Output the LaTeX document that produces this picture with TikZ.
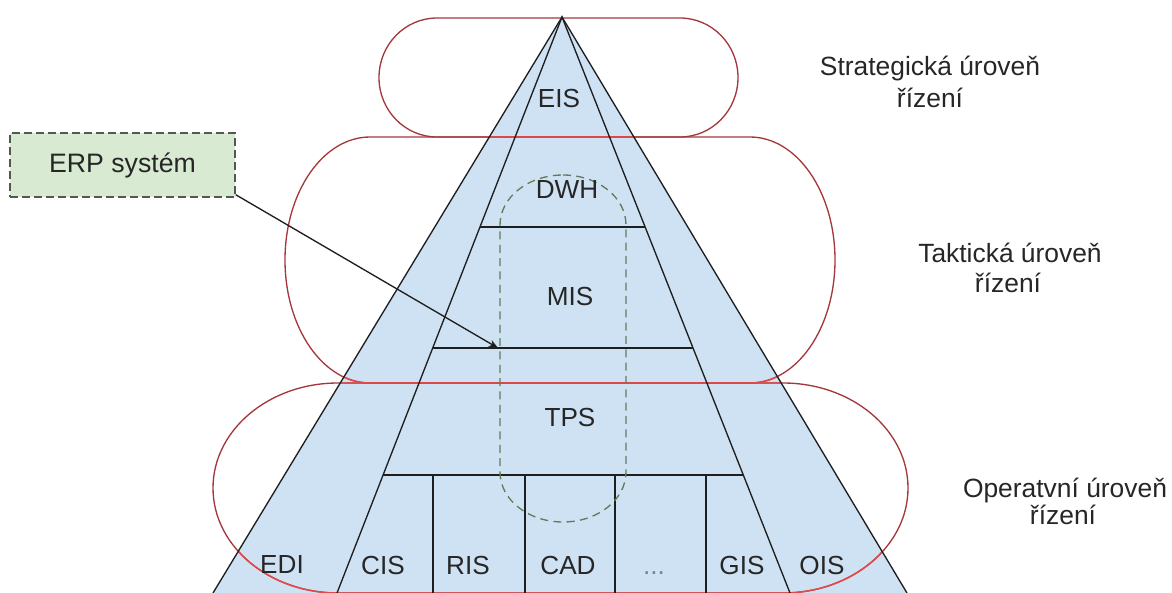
\documentclass[tikz,border=0pt]{standalone}
\usepackage{fontspec}
\setmainfont{Liberation Sans}
\usetikzlibrary{calc,arrows.meta}

\definecolor{pyrblue}{HTML}{CFE2F3}
\definecolor{lvlred}{RGB}{165,55,60}
\definecolor{lvlredlight}{RGB}{228,72,72}
\definecolor{erpgreen}{HTML}{D9EAD3}
\definecolor{erpdash}{RGB}{95,125,90}
\definecolor{erpframe}{RGB}{80,90,80}
\definecolor{inkline}{HTML}{1E1E1E}
\definecolor{inktext}{HTML}{262626}

% stadium-like outline with elliptical ends: left, right, top, bottom, rx, ry
\newcommand\capsulepath[6]{%
  (#1+#5,#3) -- (#2-#5,#3)
  .. controls (#2-#5+0.5523*#5,#3) and (#2,#3+#6-0.5523*#6) .. (#2,#3+#6)
  -- (#2,#4-#6)
  .. controls (#2,#4-#6+0.5523*#6) and (#2-#5+0.5523*#5,#4) .. (#2-#5,#4)
  -- (#1+#5,#4)
  .. controls (#1+#5-0.5523*#5,#4) and (#1,#4-#6+0.5523*#6) .. (#1,#4-#6)
  -- (#1,#3+#6)
  .. controls (#1,#3+#6-0.5523*#6) and (#1+#5-0.5523*#5,#3) .. (#1+#5,#3) -- cycle}

\tikzset{
  lvl/.style={draw=lvlred, line width=1pt},
  lvlin/.style={draw=lvlredlight, line width=1.1pt},
  blk/.style={draw=inkline, line width=1pt},
  erpzone/.style={draw=erpdash, line width=1pt, dash pattern=on 6pt off 4pt},
  tag/.style={text=inktext, font=\fontsize{19.6}{23}\selectfont, inner sep=0pt},
  side/.style={text=inktext, font=\fontsize{19.8}{23}\selectfont, inner sep=0pt, anchor=base},
  erpbox/.style={draw=erpframe, line width=1pt, dash pattern=on 6pt off 3pt,
    fill=erpgreen, minimum width=168.75pt, minimum height=48pt, inner sep=0pt,
    font=\fontsize{20}{24}\selectfont, text=inktext},
  pointer/.style={draw=inkline, line width=1pt, -{Stealth[length=7pt,width=5.5pt]}}
}

\begin{document}
\begin{tikzpicture}[x=0.75pt,y=-0.75pt]
\useasboundingbox (0,0) rectangle (1172,593);
\begin{scope}
\clip (0,0) rectangle (1172,593);

% pyramid corners and inner dividing lines
\coordinate (A)  at (562,17);
\coordinate (BL) at (213,593);
\coordinate (BR) at (907,593);
\coordinate (IL) at (337,593);
\coordinate (IR) at (790,593);

\fill[pyrblue] (A) -- (BL) -- (BR) -- cycle;

% management levels
\draw[lvl] \capsulepath{379}{738}{18}{137}{58}{59.5};
\draw[lvl] \capsulepath{285}{835}{137}{383}{85}{123};
\draw[lvl] \capsulepath{213}{908}{383}{593}{125}{105};
\begin{scope}
  \clip (A) -- (BL) -- (BR) -- cycle;
  \draw[lvlin] \capsulepath{379}{738}{18}{137}{58}{59.5};
  \draw[lvlin] \capsulepath{285}{835}{137}{383}{85}{123};
  \draw[lvlin] \capsulepath{213}{908}{383}{593}{125}{105};
\end{scope}

% pyramid outline and sections
\draw[blk] (BL) -- (A) -- (BR);
\draw[blk] (IL) -- (A) -- (IR);
\draw[blk] ($(A)!0.3646!(IL)$) -- ($(A)!0.3646!(IR)$);
\draw[blk] ($(A)!0.5747!(IL)$) -- ($(A)!0.5747!(IR)$);
\draw[blk] ($(A)!0.7951!(IL)$) -- ($(A)!0.7951!(IR)$);
\foreach \vx in {433,525,615,706}
  \draw[blk] (\vx,475) -- (\vx,593);

% ERP scope
\draw[erpzone] \capsulepath{500}{626}{175}{522}{63}{50};

% system labels
\node[tag] (eis) at (559,98.5) {EIS};
\node[tag] (dwh) at (567,190) {DWH};
\node[tag] (mis) at (570,296) {MIS};
\node[tag] (tps) at (570,417) {TPS};
\node[tag] (edi) at (282,565) {EDI};
\node[tag] (cis) at (383,565) {CIS};
\node[tag] (ris) at (468,565) {RIS};
\node[tag] (cad) at (568,565) {CAD};
\node[tag, anchor=base, text=gray] (etc) at (654,574) {...};
\node[tag] (gis) at (742,565) {GIS};
\node[tag] (ois) at (822,565) {OIS};

% level names
\node[side] (s1) at (930,75)  {Strategická úroveň};
\node[side] (s2) at (930,107) {řízení};
\node[side] (t1) at (1010,262) {Taktická úroveň};
\node[side] (t2) at (1008,292) {řízení};
\node[side] (o1) at (1065,497) {Operatvní úroveň};
\node[side] (o2) at (1063,524) {řízení};

% ERP callout
\node[erpbox] (erp) at (122.5,165) {ERP systém};
\coordinate (erptip) at (498,348);
\draw[pointer] ([yshift=2.25pt]erp.south east) -- (erptip);
\end{scope}
\end{tikzpicture}
\end{document}
